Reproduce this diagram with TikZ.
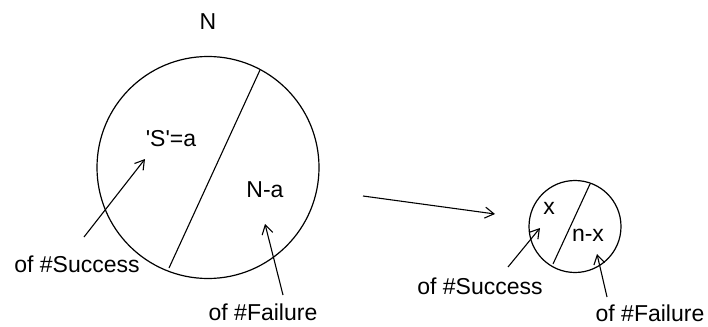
\documentclass[tikz,border=0pt]{standalone}
\usepackage{fontspec}
\setmainfont{Liberation Sans}
\usetikzlibrary{arrows.meta}
\begin{document}
\begin{tikzpicture}[x=1pt,y=-1pt,
  lbl/.style={inner sep=0pt,font=\fontsize{23}{25}\selectfont},
  ptr/.style={-{Straight Barb[length=9pt,width=11pt]},line width=1.1pt},
  ring/.style={draw,line width=1.2pt}]
\useasboundingbox (0,0) rectangle (708,326);
% big circle
\draw[ring] (208,167.5) circle (111);
\coordinate (bt) at (260,70);
\coordinate (bb) at (169,268);
\draw[line width=1.1pt] (bt) -- (bb);
\node[lbl] (N) at (208,22) {N};
\node[lbl] (S) at (171,139) {\textquotesingle S\textquotesingle=a};
\node[lbl] (Na) at (265,190) {N-a};
\node[lbl] (bs) at (77,264) {of \#Success};
\node[lbl] (bf) at (263,312) {of \#Failure};
\coordinate (bs0) at (84,237);
\coordinate (bs1) at (145,159);
\draw[ptr] (bs0) -- (bs1);
\coordinate (bf0) at (283,295);
\coordinate (bf1) at (265,224);
\draw[ptr] (bf0) -- (bf1);
% middle arrow
\coordinate (m0) at (363,196);
\coordinate (m1) at (495,214);
\draw[ptr] (m0) -- (m1);
% small circle
\draw[ring] (575,226.5) circle (46);
\coordinate (st) at (590,184);
\coordinate (sb) at (553,264);
\draw[line width=1.1pt] (st) -- (sb);
\node[lbl] (x) at (549,208) {x};
\node[lbl] (nx) at (588,235) {n-x};
\node[lbl] (ss) at (480,286) {of \#Success};
\node[lbl] (sf) at (650,313) {of \#Failure};
\coordinate (ss0) at (508,267);
\coordinate (ss1) at (540,228);
\draw[ptr] (ss0) -- (ss1);
\coordinate (sf0) at (607,297);
\coordinate (sf1) at (597,254);
\draw[ptr] (sf0) -- (sf1);
\end{tikzpicture}
\end{document}
